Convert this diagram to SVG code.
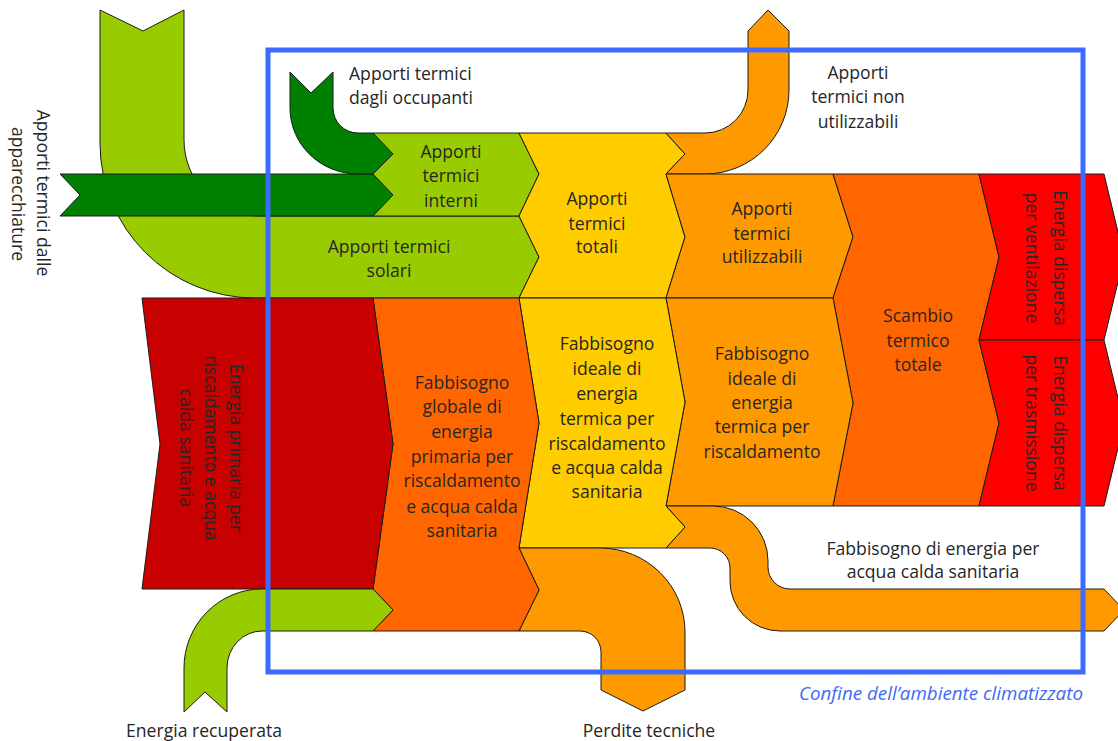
<svg xmlns="http://www.w3.org/2000/svg" width="1118" height="741" viewBox="0 0 1118 741">
<style>
.s{stroke:#1a1a1a;stroke-width:1;stroke-linejoin:miter}
.lg{fill:#99CC00}.dg{fill:#008000}.ye{fill:#FFCC00}.or{fill:#FF9900}.rd{fill:#FF6600}.re{fill:#FF0000}.dr{fill:#C80000}
text{font-family:"Open Sans","Noto Sans","Liberation Sans",sans-serif;font-size:17.6px;fill:#262626}
.c{text-anchor:middle}
.conf{font-style:italic;fill:#4169F5;font-size:18.8px;text-anchor:end}
</style>
<rect width="1118" height="741" fill="#ffffff"/>
<g id="solari">
<path class="s lg" d="M100,10 L143,31 L184,10 L184,140 A76,76 0 0 0 260,216 L519,216 L539,257 L519,298 L255,298 A155,155 0 0 1 100,143 Z"/>
<text class="c"><tspan x="389" y="253">Apporti termici</tspan><tspan x="389" y="277">solari</tspan></text>
</g>
<g id="interni">
<path class="s lg" d="M373,133 L519,133 L539,174 L519,216 L373,216 Z"/>
<text class="c"><tspan x="451" y="158">Apporti</tspan><tspan x="451" y="182">termici</tspan><tspan x="451" y="207">interni</tspan></text>
</g>
<g id="apparecchiature">
<path class="s dg" d="M60,174 L373,174 L393,195 L373,216 L60,216 L80,195 Z"/>
<text class="c" transform="translate(37,193) rotate(90)">Apporti termici dalle</text>
<text class="c" transform="translate(12,194) rotate(90)">apparecchiature</text>
</g>
<g id="occupanti">
<path class="s dg" d="M290,72 L311,93 L333,72 L333,108 A25,25 0 0 0 358,133 L373,133 L393,154 L373,174 L358,174 A68,66 0 0 1 290,108 Z"/>
<text><tspan x="349" y="80">Apporti termici</tspan><tspan x="349" y="104">dagli occupanti</tspan></text>
</g>
<g id="totali">
<path class="s ye" d="M519,133 L666,133 L685,154 L666,174 L685,237 L666,298 L519,298 L539,257 L519,216 L539,174 Z"/>
<text class="c"><tspan x="597" y="205">Apporti</tspan><tspan x="597" y="230">termici</tspan><tspan x="597" y="253">totali</tspan></text>
</g>
<g id="non-utilizzabili">
<path class="s or" d="M666,133 L705,133 A43,43 0 0 0 748,90 L748,31 L768,10 L789,31 L789,90 A84,84 0 0 1 705,174 L666,174 L685,154 Z"/>
<text class="c"><tspan x="858" y="79">Apporti</tspan><tspan x="858" y="103">termici non</tspan><tspan x="858" y="128">utilizzabili</tspan></text>
</g>
<g id="utilizzabili">
<path class="s or" d="M666,174 L833,174 L853,237 L833,298 L666,298 L685,237 Z"/>
<text class="c"><tspan x="762" y="215">Apporti</tspan><tspan x="762" y="240">termici</tspan><tspan x="762" y="263">utilizzabili</tspan></text>
</g>
<g id="scambio">
<path class="s rd" d="M833,174 L979,174 L999,257 L979,340 L999,423 L979,506 L833,506 L853,403 L833,298 L853,237 Z"/>
<text class="c"><tspan x="918" y="322">Scambio</tspan><tspan x="918" y="347">termico</tspan><tspan x="918" y="371">totale</tspan></text>
</g>
<g id="ventilazione">
<path class="s re" d="M979,174 L1104,174 L1124,257 L1104,340 L979,340 L999,257 Z"/>
<text class="c" transform="translate(1054,258) rotate(90)">Energia dispersa</text>
<text class="c" transform="translate(1026,258) rotate(90)">per ventilazione</text>
</g>
<g id="trasmissione">
<path class="s re" d="M979,340 L1104,340 L1124,423 L1104,506 L979,506 L999,423 Z"/>
<text class="c" transform="translate(1054,423) rotate(90)">Energia dispersa</text>
<text class="c" transform="translate(1026,423) rotate(90)">per trasmissione</text>
</g>
<g id="ideale-riscaldamento">
<path class="s or" d="M666,298 L833,298 L853,403 L833,506 L666,506 L685,402 Z"/>
<text class="c"><tspan x="762" y="360">Fabbisogno</tspan><tspan x="762" y="385">ideale di</tspan><tspan x="762" y="409">energia</tspan><tspan x="762" y="433">termica per</tspan><tspan x="762" y="458">riscaldamento</tspan></text>
</g>
<g id="acs">
<path class="s or" d="M666,506 L713,506 A55,55 0 0 1 768,561 L768,567 A22,22 0 0 0 790,589 L1104,589 L1124,610 L1104,631 L780,631 A50,50 0 0 1 730,581 L730,568 A20,20 0 0 0 710,548 L666,548 L685,527 Z"/>
<text class="c"><tspan x="933" y="555">Fabbisogno di energia per</tspan><tspan x="933" y="578">acqua calda sanitaria</tspan></text>
</g>
<g id="ideale-totale">
<path class="s ye" d="M519,298 L666,298 L685,402 L666,506 L685,527 L666,548 L519,548 L539,423 Z"/>
<text class="c"><tspan x="607" y="350">Fabbisogno</tspan><tspan x="607" y="375">ideale di</tspan><tspan x="607" y="400">energia</tspan><tspan x="607" y="425">termica per</tspan><tspan x="607" y="450">riscaldamento</tspan><tspan x="607" y="474">e acqua calda</tspan><tspan x="607" y="498">sanitaria</tspan></text>
</g>
<g id="perdite">
<path class="s or" d="M519,548 L600,548 A85,84 0 0 1 685,632 L685,690 L643,711 L601,690 L601,652 A21,21 0 0 0 580,631 L519,631 L539,590 Z"/>
<text class="c" x="649" y="737">Perdite tecniche</text>
</g>
<g id="globale">
<path class="s rd" d="M373,298 L519,298 L539,423 L519,548 L539,590 L519,631 L373,631 L393,610 L373,589 L393,444 Z"/>
<text class="c"><tspan x="462" y="389">Fabbisogno</tspan><tspan x="462" y="413">globale di</tspan><tspan x="462" y="438">energia</tspan><tspan x="462" y="463">primaria per</tspan><tspan x="462" y="487">riscaldamento</tspan><tspan x="462" y="513">e acqua calda</tspan><tspan x="462" y="537">sanitaria</tspan></text>
</g>
<g id="primaria">
<path class="s dr" d="M142,298 L373,298 L393,444 L373,589 L142,589 L160,444 Z"/>
<text class="c" transform="translate(230,448) rotate(90)">Energia primaria per</text>
<text class="c" transform="translate(205,448) rotate(90)">riscaldamento e acqua</text>
<text class="c" transform="translate(180,448) rotate(90)">calda sanitaria</text>
</g>
<g id="recuperata">
<path class="s lg" d="M373,589 L393,610 L373,631 L262,631 A35,37 0 0 0 227,668 L227,712 L205,692 L184,712 L184,668 A78,79 0 0 1 262,589 Z"/>
<text class="c" x="204" y="737">Energia recuperata</text>
</g>
<g id="confine">
<rect x="268" y="50" width="815" height="622" fill="none" stroke="#3D6BFF" stroke-width="5"/>
<text class="conf" x="1083" y="700">Confine dell’ambiente climatizzato</text>
</g>
</svg>
